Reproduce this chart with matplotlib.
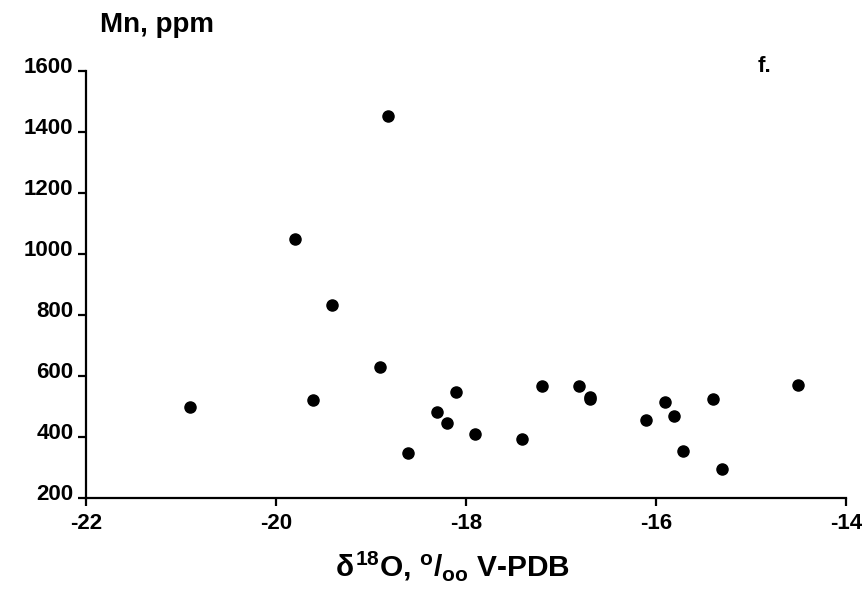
import matplotlib.pyplot as plt
import matplotlib.transforms as mtransforms
import numpy as np

plt.rcParams['font.family'] = ['Liberation Sans', 'DejaVu Sans']
plt.rcParams['font.weight'] = 'bold'
plt.rcParams['mathtext.fontset'] = 'custom'
plt.rcParams['mathtext.rm'] = 'Liberation Sans:bold'
plt.rcParams['mathtext.it'] = 'Liberation Sans:bold'
plt.rcParams['mathtext.bf'] = 'Liberation Sans:bold'

# delta 18O (per mil V-PDB) and Mn (ppm)
d18o = np.array([-20.91, -19.80, -19.41, -19.61, -18.82, -18.91, -18.61, -18.31,
                 -18.20, -18.11, -17.91, -17.41, -17.20, -16.81, -16.70, -16.70,
                 -16.11, -15.91, -15.81, -15.72, -15.40, -15.31, -14.51])
mn = np.array([497, 1050, 832, 520, 1454, 630, 348, 481,
               446, 549, 411, 393, 566, 566, 532, 526,
               457, 515, 469, 353, 526, 296, 572])

xticks = [-22, -20, -18, -16, -14]
yticks = [200, 400, 600, 800, 1000, 1200, 1400, 1600]

fig = plt.figure(figsize=(8.67, 5.89), dpi=100)
ax = fig.add_axes([0.0992, 0.1545, 0.8766, 0.725])

ax.plot(d18o, mn, 'o', color='black', markersize=8, clip_on=False)

ax.set_xlim(-22, -14)
ax.set_ylim(200, 1600)
ax.set_xticks(xticks)
ax.set_yticks(yticks)
ax.set_xticklabels([str(v) for v in xticks])
ax.set_yticklabels([str(v) for v in yticks])

for side in ['top', 'right']:
    ax.spines[side].set_visible(False)
for side in ['left', 'bottom']:
    ax.spines[side].set_linewidth(1.6)

ax.tick_params(direction='out', length=6, width=1.6, labelsize=16)
ax.tick_params(axis='x', pad=5)
ax.tick_params(axis='y', pad=3)

# y tick labels sit a little above their ticks in the reference
offset = mtransforms.ScaledTranslation(0, 6 / 100, fig.dpi_scale_trans)
for lab in ax.get_yticklabels():
    lab.set_transform(lab.get_transform() + offset)

fig.text(100 / 867, 1 - 25 / 589, 'Mn, ppm', fontsize=20, fontweight='bold',
         ha='left', va='center')
fig.text(452 / 867, 1 - 576 / 589, r'$\delta^{18}$O, $^{o}$/$_{oo}$ V-PDB',
         fontsize=21.5, fontweight='bold', ha='center', va='baseline')
fig.text(765 / 867, 1 - 67 / 589, 'f.', fontsize=16, fontweight='bold',
         ha='center', va='center')

fig.savefig('out.png', dpi=100)
